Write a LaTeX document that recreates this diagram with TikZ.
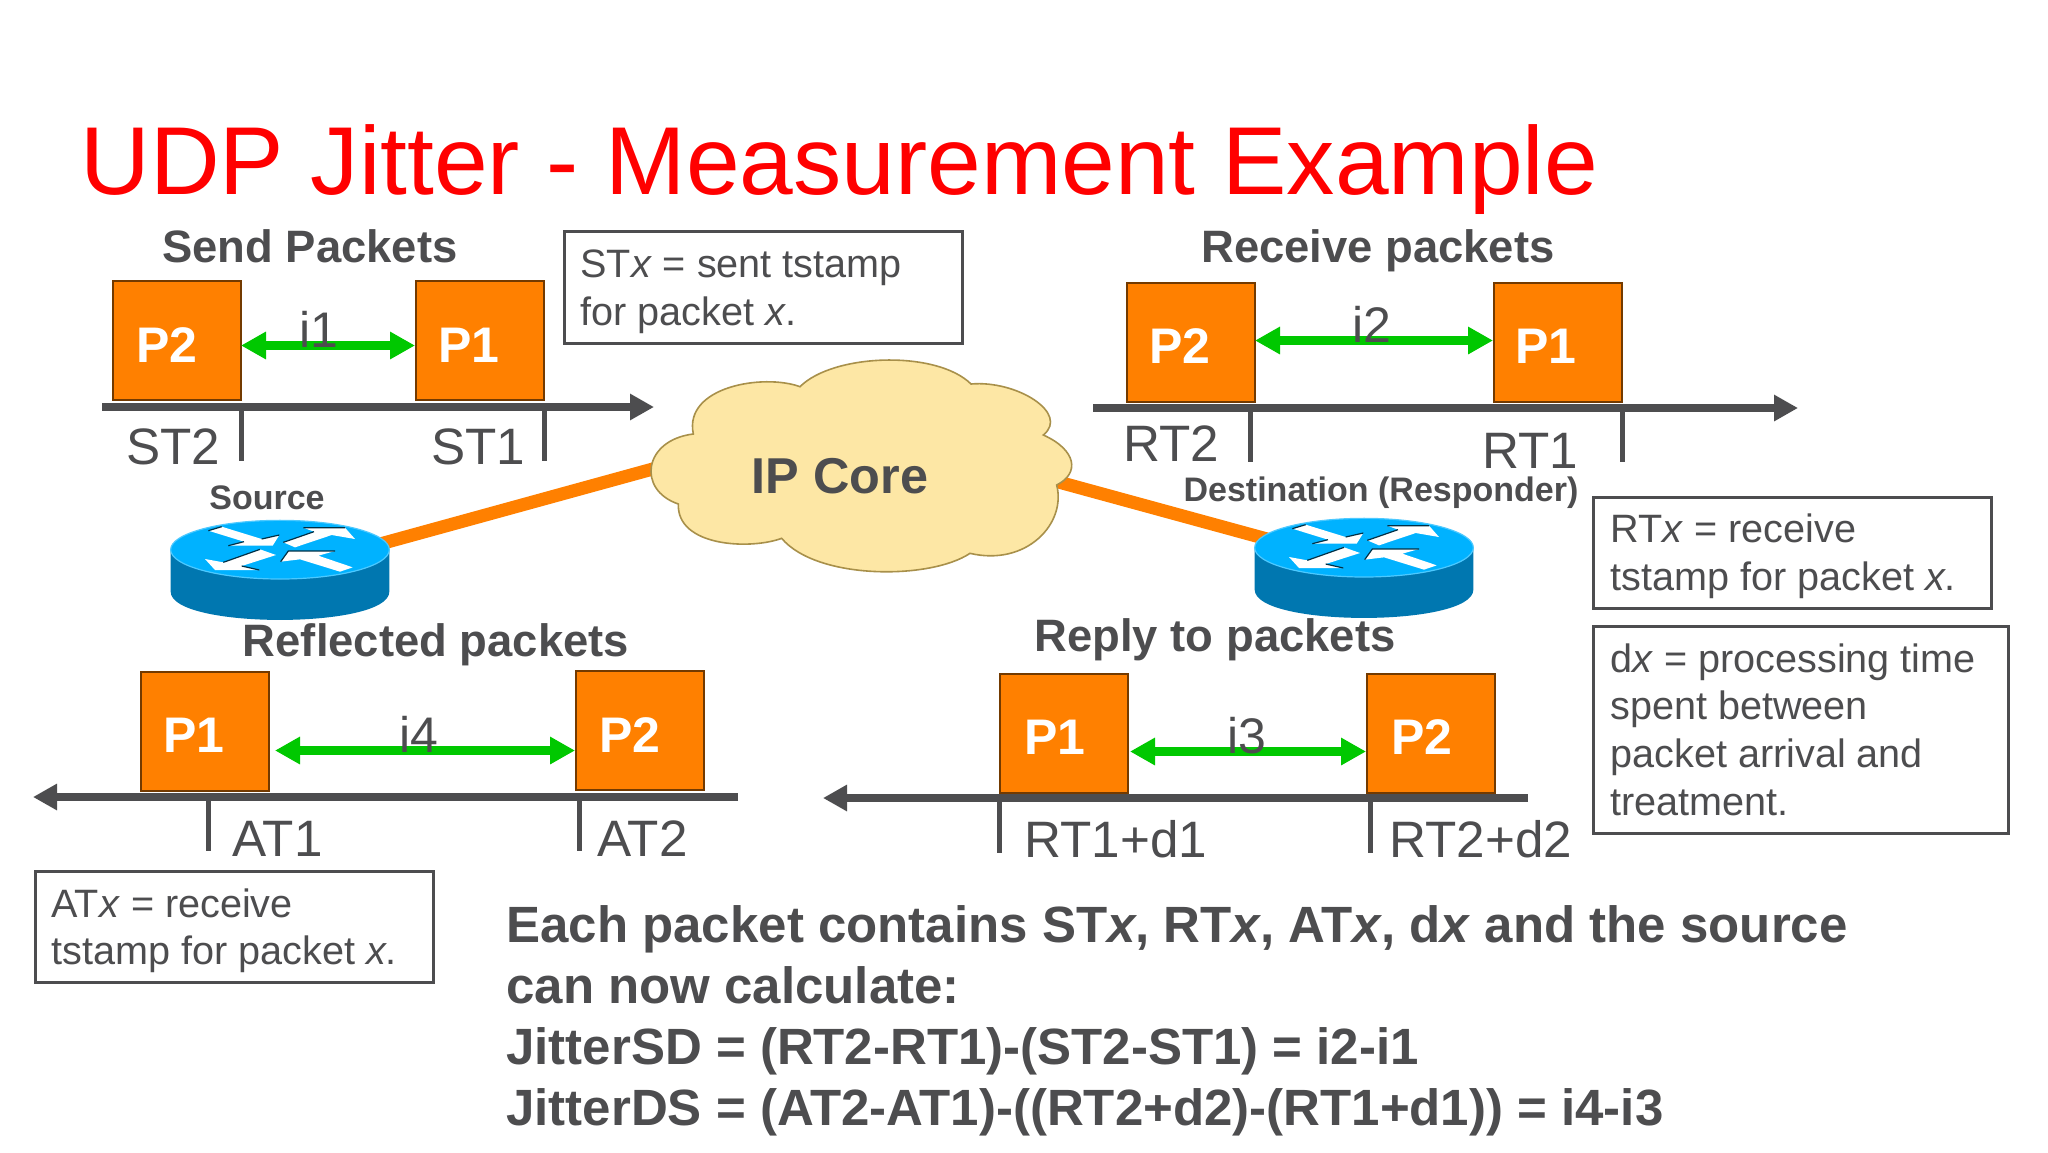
\documentclass[tikz,border=0pt]{standalone}
\usepackage{fontspec}
\setmainfont{Liberation Sans}
\usetikzlibrary{arrows.meta,calc}
\definecolor{ink}{HTML}{4D4D4F}
\definecolor{pkt}{HTML}{FF8000}
\definecolor{grn}{HTML}{00C800}
\definecolor{cloudf}{HTML}{FDE7A5}
\definecolor{cloudd}{HTML}{A8904A}
\definecolor{rtop}{HTML}{00B2FF}
\definecolor{rside}{HTML}{0077B0}
\newcommand{\fs}[1]{\fontsize{#1pt}{#1pt}\selectfont}
\newcommand{\notelines}[2]{\vtop{\baselineskip=#1pt\lineskiplimit=-20pt\halign{##\hfil\cr#2\crcr}}}
\tikzset{
  pbox/.style={draw=black!55!pkt,line width=1pt,fill=pkt,anchor=north west,inner sep=0pt,minimum width=64pt,minimum height=59.5pt},
  plabel/.style={anchor=base west,inner sep=0pt,text=white,font=\fs{25}\bfseries},
  tlabel/.style={anchor=base west,inner sep=0pt,text=ink,font=\fs{25.6}},
  ilabel/.style={anchor=base,inner sep=0pt,text=ink,font=\fs{25}},
  head/.style={anchor=base,inner sep=0pt,text=ink,font=\fs{22.7}\bfseries},
  small/.style={anchor=base,inner sep=0pt,text=ink,font=\fs{17}\bfseries},
  notebox/.style={draw=ink,line width=1.3pt,anchor=north west,inner sep=0pt},
  notetext/.style={anchor=base west,inner sep=0pt,text=ink,font=\fs{19.8}},
  axis/.style={draw=ink,line width=4.2pt,-{Triangle[length=12pt,width=12.5pt]}},
  tickm/.style={draw=ink,line width=2.5pt},
  gap/.style={draw=grn,line width=4.4pt,{Triangle[length=12.5pt,width=13pt]}-{Triangle[length=12.5pt,width=13pt]}},
  link/.style={draw=pkt,line width=6.5pt},
  router/.pic={
    \begin{scope}[scale=.33333,shift={(-420,-210)}]
      \fill[rside] (92,210) -- (92,335) .. controls (92,448) and (748,448) .. (748,335) -- (748,210) -- cycle;
      \fill[rtop,draw=rtop!70!white,line width=.6pt] (420,209) ellipse[x radius=328,y radius=88];
      \fill[white] (205,152) -- (245,140) -- (365,177) -- (418,165) -- (398,197) -- (265,197) -- (312,185) -- cycle;
      \fill[white] (430,187) -- (522,155) -- (490,143) -- (615,143) -- (645,177) -- (575,165) -- (465,202) -- cycle;
      \fill[white] (195,237) -- (250,247) -- (360,208) -- (408,225) -- (305,258) -- (358,270) -- (225,270) -- cycle;
      \fill[white] (422,245) -- (445,213) -- (585,213) -- (535,227) -- (638,262) -- (600,275) -- (480,238) -- cycle;
      \draw[rside!40!black,line width=.6pt] (245,140) -- (205,152) (365,177) -- (418,165) (430,187) -- (522,155) (490,143) -- (615,143) (250,247) -- (360,208) (305,258) -- (358,270) (422,245) -- (445,213) -- (585,213) (265,197) -- (312,185);
    \end{scope}
  }
}
\begin{document}
\begin{tikzpicture}[x=.5pt,y=-.5pt]
\useasboundingbox (0,0) rectangle (2048,1152);
\fill[white] (0,0) rectangle (2048,1152);

\node[anchor=base west,inner sep=0pt,text=red,font=\fs{48.25}] (title) at (80,194) {UDP Jitter - Measurement Example};

% links behind cloud and routers
\coordinate (rlink) at (340,555);
\coordinate (clinkl) at (700,456);
\coordinate (clinkr) at (1000,466);
\coordinate (dlink) at (1300,548);
\draw[link] (rlink) -- (clinkl);
\draw[link] (clinkr) -- (dlink);

% cloud
\begin{scope}[shift={(640,350)},scale=.33333]
\draw[fill=cloudf,draw=cloudd,line width=.8pt]
 (480,110) .. controls (580,10) and (890,0) .. (993,102)
 .. controls (1130,90) and (1290,190) .. (1210,255)
 .. controls (1310,300) and (1320,370) .. (1250,405)
 .. controls (1280,520) and (1160,650) .. (990,610)
 .. controls (870,690) and (530,690) .. (425,565)
 .. controls (330,600) and (110,590) .. (115,462)
 .. controls (-10,420) and (10,270) .. (160,252)
 .. controls (130,110) and (370,70) .. (480,110) -- cycle;
\end{scope}
\node[anchor=base,inner sep=0pt,text=ink,font=\fs{25.2}\bfseries] (core) at (840,493) {IP Core};

% routers
\pic (srcr) at (280,550) {router};
\pic (dstr) at (1364,548) {router};
\node[small] (srcl) at (267,509) {Source};
\node[small] (dstl) at (1381,501) {Destination (Responder)};

% Send packets
\node[head] (h1) at (310,262) {Send Packets};
\node[pbox] (a2) at (112,280) {};
\node[pbox] (a1) at (415,280) {};
\node[plabel] (a2l) at (136,362) {P2};
\node[plabel] (a1l) at (438,362) {P1};
\coordinate (ax1s) at (102,407); \coordinate (ax1e) at (654,407);
\draw[axis] (ax1s) -- (ax1e);
\draw[tickm] (241,407) -- (241,461);
\draw[tickm] (544,407) -- (544,461);
\node[tlabel] (st2) at (126,464) {ST2};
\node[tlabel] (st1) at (431,464) {ST1};
\draw[gap] ($(a2.east)+(-1,5)$) -- ($(a1.west)+(0,5)$);
\node[ilabel] (i1) at (319,347) {i1};

\node[notebox,minimum width=199pt,minimum height=56pt] (stx) at (563,230) {};
\node[notetext] (stxt) at (580,277) {\notelines{24}{ST\textit{x} = sent tstamp\cr for packet \textit{x}.}};

% Receive packets
\node[head] (h2) at (1378,262) {Receive packets};
\node[pbox] (b2) at (1126,282) {};
\node[pbox] (b1) at (1493,282) {};
\node[plabel] (b2l) at (1149,363) {P2};
\node[plabel] (b1l) at (1515,363) {P1};
\coordinate (ax2s) at (1093,408); \coordinate (ax2e) at (1798,408);
\draw[axis] (ax2s) -- (ax2e);
\draw[tickm] (1250,408) -- (1250,462);
\draw[tickm] (1622,408) -- (1622,462);
\node[tlabel] (rt2) at (1123,461) {RT2};
\node[tlabel] (rt1) at (1482,468) {RT1};
\draw[gap] ($(b2.east)+(-1,-2)$) -- ($(b1.west)+(0,-2)$);
\node[ilabel] (i2) at (1372,342) {i2};

\node[notebox,minimum width=199pt,minimum height=55.5pt] (rtx) at (1592,496) {};
\node[notetext] (rtxt) at (1610,542) {\notelines{24}{RT\textit{x} = receive\cr tstamp for packet \textit{x}.}};
\node[notebox,minimum width=207.5pt,minimum height=103.5pt] (dx) at (1592,625) {};
\node[notetext] (dxt) at (1610,672) {\notelines{23.9}{d\textit{x} = processing time\cr spent between\cr packet arrival and\cr treatment.}};

% Reflected packets
\node[head] (h3) at (436,656) {Reflected packets};
\node[pbox] (c1) at (140,671) {};
\node[pbox] (c2) at (575,670) {};
\node[plabel] (c1l) at (163,752) {P1};
\node[plabel] (c2l) at (599,752) {P2};
\coordinate (ax3s) at (738,797); \coordinate (ax3e) at (33,797);
\draw[axis] (ax3s) -- (ax3e);
\draw[tickm] (208,797) -- (208,851);
\draw[tickm] (579,797) -- (579,851);
\node[tlabel] (at1) at (232,856) {AT1};
\node[tlabel] (at2) at (597,856) {AT2};
\draw[gap] ($(c1.east)+(5,19)$) -- ($(c2.west)+(0,20)$);
\node[ilabel] (i4) at (419,752) {i4};

\node[notebox,minimum width=199pt,minimum height=55.5pt] (atx) at (34,870) {};
\node[notetext] (atxt) at (51,917) {\notelines{23.9}{AT\textit{x} = receive\cr tstamp for packet \textit{x}.}};

% Reply to packets
\node[head] (h4) at (1215,651) {Reply to packets};
\node[pbox] (d1) at (999,673) {};
\node[pbox] (d2) at (1366,673) {};
\node[plabel] (d1l) at (1024,754) {P1};
\node[plabel] (d2l) at (1391,754) {P2};
\coordinate (ax4s) at (1528,798); \coordinate (ax4e) at (823,798);
\draw[axis] (ax4s) -- (ax4e);
\draw[tickm] (999,798) -- (999,853);
\draw[tickm] (1370,798) -- (1370,853);
\node[tlabel] (rd1) at (1024,857) {RT1+d1};
\node[tlabel] (rd2) at (1389,857) {RT2+d2};
\draw[gap] ($(d1.east)+(1,18)$) -- ($(d2.west)+(0,18)$);
\node[ilabel] (i3) at (1247,753) {i3};

% formulas
\node[anchor=base west,inner sep=0pt,text=ink,font=\fs{25.5}\bfseries] (calc) at (506,942) {\notelines{30.5}{Each packet contains ST\textit{x}, RT\textit{x}, AT\textit{x}, d\textit{x} and the source\cr can now calculate:\cr JitterSD = (RT2-RT1)-(ST2-ST1) = i2-i1\cr JitterDS = (AT2-AT1)-((RT2+d2)-(RT1+d1)) = i4-i3}};
\end{tikzpicture}
\end{document}
